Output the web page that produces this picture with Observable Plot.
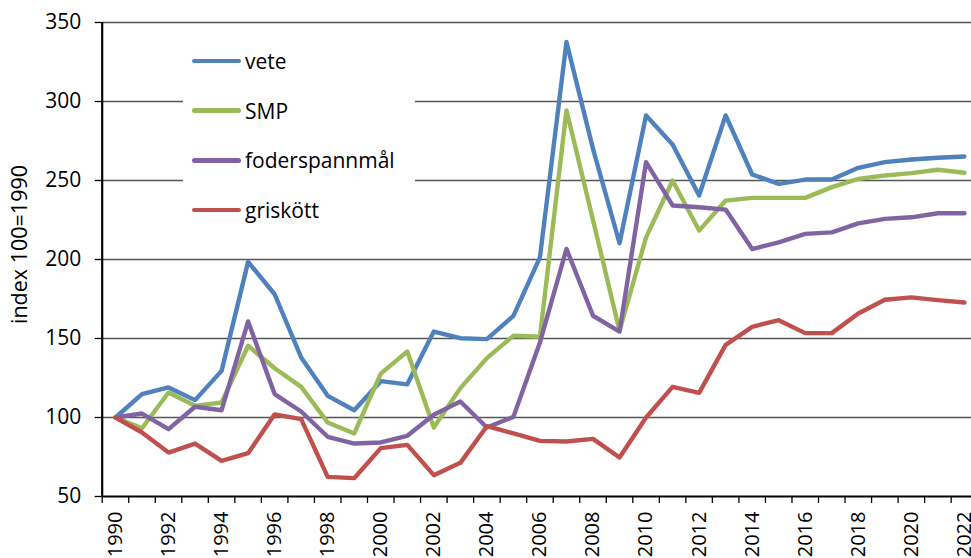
<!DOCTYPE html>
<html><head><meta charset="utf-8">
<script src="https://cdn.jsdelivr.net/npm/d3@7"></script>
<script src="https://cdn.jsdelivr.net/npm/@observablehq/plot@0.6"></script>
<style>
body{margin:0;background:#fff;overflow:hidden}
#chart{position:relative;width:971px;height:558px;font-family:"Open Sans",sans-serif}
#legend{position:absolute;left:183px;top:36px;width:232px;height:198px;background:#fff}
.row{position:absolute;left:9px;height:30px;display:flex;align-items:center;font-size:21px;color:#000;white-space:nowrap}
.sw{width:49px;height:4.5px;border-radius:3px;margin-right:4px}
</style></head><body><div id="chart"></div>
<script>
const years = d3.range(1990, 2023);
const seriesNames = ["vete", "SMP", "foderspannmål", "griskött"];
const seriesColors = ["#4F81BD", "#9BBB59", "#8064A2", "#C0504D"];
const vete = [100, 114.8, 119, 111, 129.5, 198.5, 178, 138, 113.7, 104.6,
  123, 121, 154.4, 150.2, 149.6, 164.3, 201.4, 337.7, 270, 210.3,
  291.2, 272.8, 240.5, 291.2, 253.8, 247.9, 250.6, 250.6, 258, 261.6, 263.3, 264.4, 265.2];
const smp = [100, 93.2, 115.8, 107.4, 109.5, 145.4, 131.2, 119.4, 96.8, 89.9,
  127.8, 141.8, 93.7, 118.6, 137.6, 151.7, 151.1, 294.4, 225, 154.9,
  214, 250, 218.3, 237.3, 239, 239, 239, 245.8, 251, 253.2, 254.7, 256.8, 254.9];
const foderspannmal = [100, 102.5, 92.6, 106.8, 104.6, 160.8, 114.8, 103.8, 87.8, 83.5,
  84.2, 88.4, 101.7, 110.1, 93.7, 100.4, 147.5, 206.7, 164.4, 154.4,
  261.6, 234.2, 233.1, 231.6, 206.6, 210.9, 216.2, 217.2, 222.9, 225.7, 226.7, 229.3, 229.3];
const griskott = [100, 90.5, 77.8, 83.5, 72.6, 77.4, 102, 99, 62.4, 61.6,
  80.6, 82.7, 63.5, 71.3, 94.5, 89.9, 85.2, 84.8, 86.5, 74.7,
  100, 119.4, 115.6, 146, 157.4, 161.6, 153.4, 153.4, 165.8, 174.5, 176, 174.3, 172.8];
const seriesValues = [vete, smp, foderspannmal, griskott];
const yTicks = [50, 100, 150, 200, 250, 300, 350];
const xLabelYears = d3.range(1990, 2023, 2);
const yLabel = "index 100=1990";

const rows = seriesNames.flatMap((name, i) => years.map((yr, j) => ({series: name, year: yr, value: seriesValues[i][j]})));
const boundaries = years.map(y => y - 0.5);

const chart = Plot.plot({
  width: 971, height: 558,
  marginLeft: 101.7, marginRight: 0, marginTop: 22, marginBottom: 62,
  x: {domain: [1989.5, 2022.267], axis: null},
  y: {domain: [50, 350], axis: null},
  color: {domain: seriesNames, range: seriesColors},
  style: {fontFamily: "'Open Sans', sans-serif", fontSize: "21px", color: "#000", background: "#fff", overflow: "hidden"},
  marks: [
    Plot.gridY(yTicks.filter(v => v > 50), {stroke: "#555", strokeOpacity: 1, strokeWidth: 1.3}),
    Plot.axisY(yTicks, {tickSize: 7, tickPadding: 14, fontSize: 21, label: null, strokeWidth: 1.3}),
    Plot.axisX(boundaries, {tickSize: 7, tickFormat: () => "", label: null, strokeWidth: 1.3}),
    Plot.axisX(xLabelYears, {tickSize: 0, tickPadding: 15, tickRotate: -90, fontSize: 20, label: null, tickFormat: d => String(d)}),
    Plot.ruleY([50], {stroke: "#000", strokeWidth: 1.8}),
    Plot.ruleX([1989.5], {stroke: "#000", strokeWidth: 2.2}),
    Plot.lineY(rows, {x: "year", y: "value", stroke: "series", strokeWidth: 4.4, strokeLinejoin: "round", strokeLinecap: "round"}),
    Plot.text([yLabel], {frameAnchor: "left", textAnchor: "middle", rotate: -90, dx: -82, dy: -15, fontSize: 21.5})
  ]
});
const container = document.getElementById("chart");
container.appendChild(chart);

const legend = document.createElement("div");
legend.id = "legend";
seriesNames.forEach((name, i) => {
  const row = document.createElement("div");
  row.className = "row";
  row.style.top = (10 + i * 49.7) + "px";
  const sw = document.createElement("span");
  sw.className = "sw";
  sw.style.background = seriesColors[i];
  const lab = document.createElement("span");
  lab.textContent = name;
  row.appendChild(sw); row.appendChild(lab);
  legend.appendChild(row);
});
container.appendChild(legend);
</script></body></html>
